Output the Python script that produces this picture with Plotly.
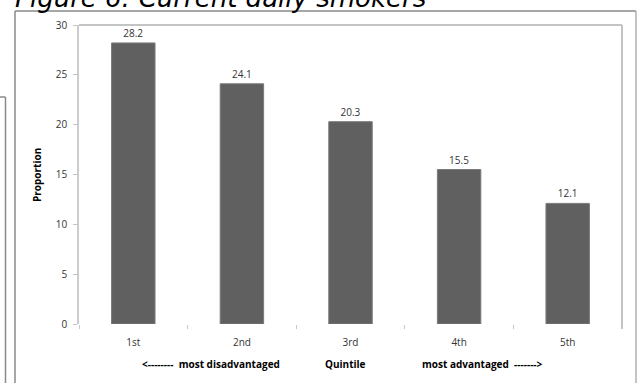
import plotly.graph_objects as go

categories = ["1st", "2nd", "3rd", "4th", "5th"]
values = [28.2, 24.1, 20.3, 15.5, 12.1]
y_ticks = [0, 5, 10, 15, 20, 25, 30]

W, H = 639, 383
L, R, T, B = 79, 622, 25, 324  # plot area in pixels


def px(x):
    return (x - L) / (R - L)


def py(y):
    return (B - y) / (B - T)


FONT = "Open Sans"

fig = go.Figure()
fig.add_trace(go.Bar(
    x=categories, y=values,
    marker=dict(color="#606060", line=dict(color="#7a7a7a", width=1)),
    text=[f"{v:.1f}" for v in values],
    textposition="outside",
    textfont=dict(family=FONT, size=10, color="#333333"),
    cliponaxis=False,
    width=0.4,
))

shapes = []
line_outer = dict(color="#8a8a8a", width=1.5)
line_inner = dict(color="#c4c4c4", width=2)
# outer document frame
shapes.append(dict(type="line", xref="paper", yref="paper", x0=px(15), x1=px(636), y0=py(11), y1=py(11), line=line_outer))
shapes.append(dict(type="line", xref="paper", yref="paper", x0=px(15), x1=px(15), y0=py(11), y1=py(390), line=line_outer))
shapes.append(dict(type="line", xref="paper", yref="paper", x0=px(636), x1=px(636), y0=py(11), y1=py(390), line=dict(color="#b0b0b0", width=1.5)))
# left neighbouring box
shapes.append(dict(type="line", xref="paper", yref="paper", x0=px(-5), x1=px(5.5), y0=py(97), y1=py(97), line=line_outer))
shapes.append(dict(type="line", xref="paper", yref="paper", x0=px(5.5), x1=px(5.5), y0=py(97), y1=py(390), line=line_outer))
# plot area border (top + right)
shapes.append(dict(type="line", xref="paper", yref="paper", x0=0, x1=1, y0=1, y1=1, line=line_inner))
shapes.append(dict(type="line", xref="paper", yref="paper", x0=1, x1=1, y0=1, y1=py(329), line=line_inner))

annotations = [
    dict(text="<i>Figure 6: Current daily smokers</i>", xref="paper", yref="paper",
         x=px(13), y=py(15), xanchor="left", yanchor="bottom", showarrow=False,
         font=dict(family="DejaVu Sans", size=26, color="#000000")),
    dict(text="<b>Proportion</b>", xref="paper", yref="paper", x=px(37), y=py(175),
         textangle=-90, showarrow=False, xanchor="center", yanchor="middle",
         font=dict(family=FONT, size=10, color="#000000")),
    dict(text="<b><--------  most disadvantaged</b>", xref="paper", yref="paper", x=px(211), y=py(364),
         showarrow=False, xanchor="center", yanchor="middle", font=dict(family=FONT, size=10, color="#000000")),
    dict(text="<b>Quintile</b>", xref="paper", yref="paper", x=px(345), y=py(364),
         showarrow=False, xanchor="center", yanchor="middle", font=dict(family=FONT, size=10, color="#000000")),
    dict(text="<b>most advantaged  -------></b>", xref="paper", yref="paper", x=px(482), y=py(364),
         showarrow=False, xanchor="center", yanchor="middle", font=dict(family=FONT, size=10, color="#000000")),
]

fig.update_layout(
    width=W, height=H,
    margin=dict(l=L, r=W - R, t=T, b=H - B, pad=0),
    paper_bgcolor="white", plot_bgcolor="white",
    showlegend=False,
    bargap=0.6,
    shapes=shapes,
    annotations=annotations,
    font=dict(family=FONT, size=10, color="#333333"),
)
fig.update_xaxes(
    showline=False, showgrid=False, zeroline=False,
    ticks="outside", tickson="boundaries", ticklen=4, tickcolor="#c8c8c8", tickwidth=1,
    ticklabelstandoff=11,
    tickfont=dict(family=FONT, size=10, color="#333333"),
)
fig.update_yaxes(
    range=[0, 30], tickvals=y_ticks, showgrid=False, zeroline=False,
    showline=True, linecolor="#cccccc", linewidth=1.5,
    ticks="outside", ticklen=4, tickcolor="#c4c4c4", tickwidth=1,
    ticklabelstandoff=4,
    tickfont=dict(family=FONT, size=10, color="#333333"),
)

fig.write_html("out.html")
